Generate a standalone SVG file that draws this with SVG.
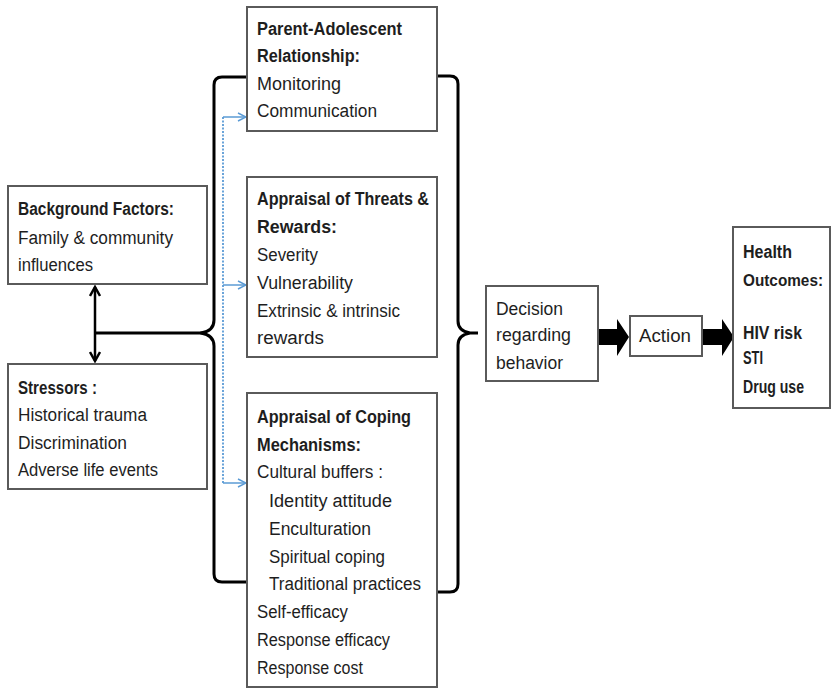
<svg xmlns="http://www.w3.org/2000/svg" width="831" height="688" viewBox="0 0 831 688">
<defs>
<style>
.box{fill:#fff;stroke:#5a5a5a;stroke-width:2}
text{font-family:"Liberation Sans",Arial,sans-serif;font-size:18px;fill:#1e1e1e}
.h{font-weight:bold}
.brace{fill:none;stroke:#000;stroke-width:3;stroke-linejoin:round}
.blue{fill:none;stroke:#5b9bd5;stroke-width:1.5}
</style>
<marker id="ba" viewBox="0 0 10 10" refX="9" refY="5" markerWidth="10" markerHeight="10" markerUnits="userSpaceOnUse" orient="auto">
<path d="M1,1 L9,5 L1,9" fill="none" stroke="#5b9bd5" stroke-width="1.5"/>
</marker>
<marker id="ka" viewBox="0 0 12 12" refX="10" refY="6" markerWidth="12" markerHeight="12" markerUnits="userSpaceOnUse" orient="auto-start-reverse">
<path d="M1,1 L10,6 L1,11" fill="none" stroke="#000" stroke-width="2.5"/>
</marker>
</defs>
<rect width="831" height="688" fill="#fff"/>

<g id="connectors">
<path class="brace" d="M247,77 H222 Q214,77 214,85 V320 Q214,331 201,333 Q214,335 214,346 V574 Q214,582 222,582 H247"/>
<path class="brace" d="M437,76 H450 Q458,76 458,84 V321 Q458,331 470,333 H478 M470,333 Q458,335 458,345 V584 Q458,592 450,592 H438"/>
<line x1="95" y1="333" x2="205" y2="333" stroke="#000" stroke-width="3"/>
<line x1="95" y1="287" x2="95" y2="361" stroke="#000" stroke-width="2.5" marker-start="url(#ka)" marker-end="url(#ka)"/>
<line x1="223" y1="117" x2="223" y2="483" stroke="#5b9bd5" stroke-width="1.8" stroke-dasharray="2,1.5"/>
<line class="blue" x1="223" y1="117" x2="246" y2="117" marker-end="url(#ba)"/>
<line class="blue" x1="223" y1="285" x2="246" y2="285" marker-end="url(#ba)"/>
<line class="blue" x1="223" y1="483" x2="246" y2="483" marker-end="url(#ba)"/>
<polygon points="598,329 617,329 617,319 629,337 617,356 617,345 598,345" fill="#000"/>
<polygon points="702,329 722,329 722,319 734,337 722,356 722,345 702,345" fill="#000"/>
</g>

<g id="background">
<rect class="box" x="8" y="186" width="199" height="98"/>
<text class="h" x="18" y="215" textLength="156" lengthAdjust="spacingAndGlyphs">Background Factors:</text>
<text x="18" y="244" textLength="155" lengthAdjust="spacingAndGlyphs">Family &amp; community</text>
<text x="18" y="271" textLength="75" lengthAdjust="spacingAndGlyphs">influences</text>
</g>

<g id="stressors">
<rect class="box" x="8" y="364" width="199" height="125"/>
<text class="h" x="18" y="394" textLength="79" lengthAdjust="spacingAndGlyphs">Stressors :</text>
<text x="18" y="421" textLength="129" lengthAdjust="spacingAndGlyphs">Historical trauma</text>
<text x="18" y="449" textLength="109" lengthAdjust="spacingAndGlyphs">Discrimination</text>
<text x="18" y="476" textLength="140" lengthAdjust="spacingAndGlyphs">Adverse life events</text>
</g>

<g id="parent">
<rect class="box" x="247" y="7" width="190" height="124"/>
<text class="h" x="257" y="35" textLength="145" lengthAdjust="spacingAndGlyphs">Parent-Adolescent</text>
<text class="h" x="257" y="62" textLength="103" lengthAdjust="spacingAndGlyphs">Relationship:</text>
<text x="257" y="90" textLength="84" lengthAdjust="spacingAndGlyphs">Monitoring</text>
<text x="257" y="117" textLength="120" lengthAdjust="spacingAndGlyphs">Communication</text>
</g>

<g id="threats">
<rect class="box" x="247" y="177" width="190" height="180"/>
<text class="h" x="257" y="205" textLength="172" lengthAdjust="spacingAndGlyphs">Appraisal of Threats &amp;</text>
<text class="h" x="257" y="233" textLength="80" lengthAdjust="spacingAndGlyphs">Rewards:</text>
<text x="257" y="261" textLength="61" lengthAdjust="spacingAndGlyphs">Severity</text>
<text x="257" y="289" textLength="96" lengthAdjust="spacingAndGlyphs">Vulnerability</text>
<text x="257" y="317" textLength="143" lengthAdjust="spacingAndGlyphs">Extrinsic &amp; intrinsic</text>
<text x="257" y="344" textLength="67" lengthAdjust="spacingAndGlyphs">rewards</text>
</g>

<g id="coping">
<rect class="box" x="247" y="393" width="190" height="294"/>
<text class="h" x="257" y="423" textLength="154" lengthAdjust="spacingAndGlyphs">Appraisal of  Coping</text>
<text class="h" x="257" y="451" textLength="104" lengthAdjust="spacingAndGlyphs">Mechanisms:</text>
<text x="257" y="478" textLength="126" lengthAdjust="spacingAndGlyphs">Cultural buffers :</text>
<text x="269" y="507" textLength="123" lengthAdjust="spacingAndGlyphs">Identity attitude</text>
<text x="269" y="535" textLength="102" lengthAdjust="spacingAndGlyphs">Enculturation</text>
<text x="269" y="563" textLength="116" lengthAdjust="spacingAndGlyphs">Spiritual coping</text>
<text x="269" y="590" textLength="152" lengthAdjust="spacingAndGlyphs">Traditional practices</text>
<text x="257" y="618" textLength="91" lengthAdjust="spacingAndGlyphs">Self-efficacy</text>
<text x="257" y="646" textLength="133" lengthAdjust="spacingAndGlyphs">Response efficacy</text>
<text x="257" y="674" textLength="106" lengthAdjust="spacingAndGlyphs">Response cost</text>
</g>

<g id="decision">
<rect class="box" x="486" y="286" width="112" height="95"/>
<text x="496" y="315" textLength="67" lengthAdjust="spacingAndGlyphs">Decision</text>
<text x="496" y="341" textLength="75" lengthAdjust="spacingAndGlyphs">regarding</text>
<text x="496" y="369" textLength="67" lengthAdjust="spacingAndGlyphs">behavior</text>
</g>

<g id="action">
<rect class="box" x="630" y="316" width="72" height="40"/>
<text x="639" y="342" textLength="52" lengthAdjust="spacingAndGlyphs">Action</text>
</g>

<g id="health">
<rect class="box" x="733" y="227" width="97" height="181"/>
<text class="h" x="743" y="258" textLength="49" lengthAdjust="spacingAndGlyphs">Health</text>
<text class="h" x="743" y="286" font-size="16" style="font-size:16px" textLength="80" lengthAdjust="spacingAndGlyphs">Outcomes:</text>
<text class="h" x="743" y="339" textLength="59" lengthAdjust="spacingAndGlyphs">HIV risk</text>
<text class="h" x="743" y="364" textLength="20" lengthAdjust="spacingAndGlyphs">STI</text>
<text class="h" x="743" y="393" textLength="61" lengthAdjust="spacingAndGlyphs">Drug use</text>
</g>
</svg>
